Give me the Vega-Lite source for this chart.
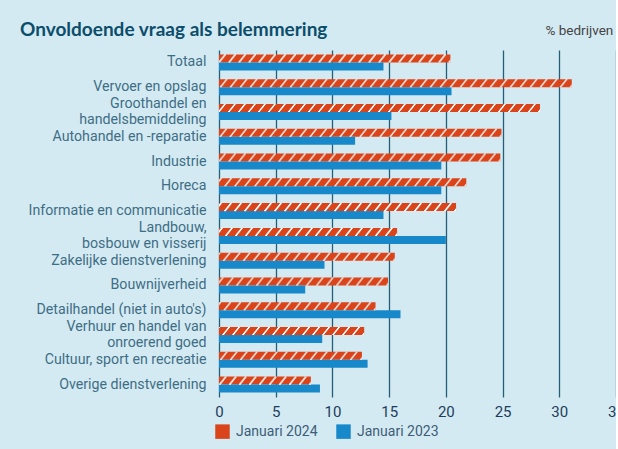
{
  "$schema": "https://vega.github.io/schema/vega-lite/v6.json",
  "width": 397,
  "height": 347,
  "autosize": {"type": "none"},
  "padding": {"left": 219, "top": 50, "right": 0, "bottom": 52},
  "background": "#d4eaf2",
  "title": {
    "text": "Onvoldoende vraag als belemmering",
    "anchor": "start",
    "frame": "group",
    "dx": -199,
    "offset": 0,
    "dy": 32,
    "baseline": "alphabetic",
    "font": "Lato",
    "fontSize": 19,
    "fontWeight": "bold",
    "color": "#0b4d6b"
  },
  "datasets": {
    "bedrijven": [
      {"sector": "Totaal", "jaar": "Januari 2024", "pct": 20.4},
      {"sector": "Totaal", "jaar": "Januari 2023", "pct": 14.5},
      {"sector": "Vervoer en opslag", "jaar": "Januari 2024", "pct": 31.1},
      {"sector": "Vervoer en opslag", "jaar": "Januari 2023", "pct": 20.5},
      {"sector": "Groothandel en handelsbemiddeling", "jaar": "Januari 2024", "pct": 28.3},
      {"sector": "Groothandel en handelsbemiddeling", "jaar": "Januari 2023", "pct": 15.2},
      {"sector": "Autohandel en -reparatie", "jaar": "Januari 2024", "pct": 24.9},
      {"sector": "Autohandel en -reparatie", "jaar": "Januari 2023", "pct": 12.0},
      {"sector": "Industrie", "jaar": "Januari 2024", "pct": 24.8},
      {"sector": "Industrie", "jaar": "Januari 2023", "pct": 19.6},
      {"sector": "Horeca", "jaar": "Januari 2024", "pct": 21.8},
      {"sector": "Horeca", "jaar": "Januari 2023", "pct": 19.6},
      {"sector": "Informatie en communicatie", "jaar": "Januari 2024", "pct": 20.9},
      {"sector": "Informatie en communicatie", "jaar": "Januari 2023", "pct": 14.5},
      {"sector": "Landbouw, bosbouw en visserij", "jaar": "Januari 2024", "pct": 15.7},
      {"sector": "Landbouw, bosbouw en visserij", "jaar": "Januari 2023", "pct": 20.0},
      {"sector": "Zakelijke dienstverlening", "jaar": "Januari 2024", "pct": 15.5},
      {"sector": "Zakelijke dienstverlening", "jaar": "Januari 2023", "pct": 9.3},
      {"sector": "Bouwnijverheid", "jaar": "Januari 2024", "pct": 14.9},
      {"sector": "Bouwnijverheid", "jaar": "Januari 2023", "pct": 7.6},
      {"sector": "Detailhandel (niet in auto's)", "jaar": "Januari 2024", "pct": 13.8},
      {"sector": "Detailhandel (niet in auto's)", "jaar": "Januari 2023", "pct": 16.0},
      {"sector": "Verhuur en handel van onroerend goed", "jaar": "Januari 2024", "pct": 12.8},
      {"sector": "Verhuur en handel van onroerend goed", "jaar": "Januari 2023", "pct": 9.1},
      {"sector": "Cultuur, sport en recreatie", "jaar": "Januari 2024", "pct": 12.6},
      {"sector": "Cultuur, sport en recreatie", "jaar": "Januari 2023", "pct": 13.1},
      {"sector": "Overige dienstverlening", "jaar": "Januari 2024", "pct": 8.1},
      {"sector": "Overige dienstverlening", "jaar": "Januari 2023", "pct": 8.9}
    ]
  },
  "data": {"name": "bedrijven"},
  "resolve": {"axis": {"x": "independent"}},
  "layer": [
    {
      "mark": {"type": "bar"},
      "encoding": {
        "y": {
          "field": "sector", "type": "nominal", "sort": null,
          "scale": {"paddingInner": 0.355, "paddingOuter": 0.1775},
          "axis": {
            "title": null, "domain": false, "ticks": false, "grid": false,
            "labelFont": "Roboto", "labelFontSize": 14.2, "labelColor": "#3e6e85",
            "labelPadding": 13, "labelLineHeight": 16, "labelLimit": 300,
            "labelExpr": "datum.label == 'Groothandel en handelsbemiddeling' ? ['Groothandel en', 'handelsbemiddeling'] : datum.label == 'Landbouw, bosbouw en visserij' ? ['Landbouw,', 'bosbouw en visserij'] : datum.label == 'Verhuur en handel van onroerend goed' ? ['Verhuur en handel van', 'onroerend goed'] : datum.label",
            "labelOffset": {
              "condition": {"test": "datum.value == 'Groothandel en handelsbemiddeling' || datum.value == 'Landbouw, bosbouw en visserij' || datum.value == 'Verhuur en handel van onroerend goed'", "value": -8},
              "value": 0
            }
          }
        },
        "yOffset": {"field": "jaar", "type": "nominal", "sort": ["Januari 2024", "Januari 2023"]},
        "x": {
          "field": "pct", "type": "quantitative",
          "scale": {"domain": [0, 35], "nice": false},
          "axis": {
            "title": null, "values": [0, 5, 10, 15, 20, 25, 30, 35],
            "grid": true, "gridColor": "#245e78", "gridWidth": 1.3,
            "domain": false, "ticks": false, "labelFlush": false,
            "labelFont": "Roboto", "labelFontSize": 15, "labelColor": "#1d3d5c",
            "labelPadding": 7
          }
        },
        "color": {
          "field": "jaar", "type": "nominal",
          "scale": {"domain": ["Januari 2024", "Januari 2023"], "range": ["#d9441b", "#1788c9"]},
          "legend": {
            "orient": "none", "legendX": -4, "legendY": 374,
            "direction": "horizontal", "title": null,
            "symbolType": "square", "symbolSize": 210, "symbolStrokeWidth": 0,
            "labelFont": "Roboto", "labelFontSize": 14, "labelColor": "#3d5d78",
            "labelOffset": 6, "columnPadding": 18,
            "encode": {
              "symbols": {
                "update": {
                  "fill": [
                    {"test": "datum.value === 'Januari 2024'", "value": {"gradient": "linear", "x1": 0, "y1": 0, "x2": 1, "y2": 1, "stops": [{"offset": 0, "color": "#d9441b"}, {"offset": 0.43, "color": "#d9441b"}, {"offset": 0.43, "color": "#ffffff"}, {"offset": 0.57, "color": "#ffffff"}, {"offset": 0.57, "color": "#d9441b"}, {"offset": 1, "color": "#d9441b"}]}},
                    {"value": "#1788c9"}
                  ]
                }
              }
            }
          }
        }
      }
    },
    {
      "transform": [{"filter": "datum.jaar === 'Januari 2024'"}],
      "mark": {"type": "rule", "color": "#ffffff", "strokeWidth": 1.05, "strokeDash": [1.9, 8.1], "strokeDashOffset": 5.6, "yOffset": -7.5, "strokeCap": "butt"},
      "encoding": {
        "y": {"field": "sector", "type": "nominal", "sort": null},
        "x": {"field": "pct", "type": "quantitative", "axis": {
          "orient": "top", "labels": false, "ticks": false, "grid": false, "domain": false,
          "title": "% bedrijven", "titleFont": "Roboto", "titleFontSize": 13.5, "titleFontWeight": "normal",
          "titleColor": "#444444", "titleAnchor": "start", "titleAlign": "left", "titleX": 326, "titleY": -16, "titleBaseline": "alphabetic"
        }},
        "x2": {"datum": 0}
      }
    },
    {
      "transform": [{"filter": "datum.jaar === 'Januari 2024'"}],
      "mark": {"type": "rule", "color": "#ffffff", "strokeWidth": 1.05, "strokeDash": [1.9, 8.1], "strokeDashOffset": 4.8, "yOffset": -6.5, "strokeCap": "butt"},
      "encoding": {"y": {"field": "sector", "type": "nominal", "sort": null}, "x": {"field": "pct", "type": "quantitative", "axis": null}, "x2": {"datum": 0}}
    },
    {
      "transform": [{"filter": "datum.jaar === 'Januari 2024'"}],
      "mark": {"type": "rule", "color": "#ffffff", "strokeWidth": 1.05, "strokeDash": [1.9, 8.1], "strokeDashOffset": 4.0, "yOffset": -5.5, "strokeCap": "butt"},
      "encoding": {"y": {"field": "sector", "type": "nominal", "sort": null}, "x": {"field": "pct", "type": "quantitative", "axis": null}, "x2": {"datum": 0}}
    },
    {
      "transform": [{"filter": "datum.jaar === 'Januari 2024'"}],
      "mark": {"type": "rule", "color": "#ffffff", "strokeWidth": 1.05, "strokeDash": [1.9, 8.1], "strokeDashOffset": 3.2, "yOffset": -4.5, "strokeCap": "butt"},
      "encoding": {"y": {"field": "sector", "type": "nominal", "sort": null}, "x": {"field": "pct", "type": "quantitative", "axis": null}, "x2": {"datum": 0}}
    },
    {
      "transform": [{"filter": "datum.jaar === 'Januari 2024'"}],
      "mark": {"type": "rule", "color": "#ffffff", "strokeWidth": 1.05, "strokeDash": [1.9, 8.1], "strokeDashOffset": 2.4, "yOffset": -3.5, "strokeCap": "butt"},
      "encoding": {"y": {"field": "sector", "type": "nominal", "sort": null}, "x": {"field": "pct", "type": "quantitative", "axis": null}, "x2": {"datum": 0}}
    },
    {
      "transform": [{"filter": "datum.jaar === 'Januari 2024'"}],
      "mark": {"type": "rule", "color": "#ffffff", "strokeWidth": 1.05, "strokeDash": [1.9, 8.1], "strokeDashOffset": 1.6, "yOffset": -2.5, "strokeCap": "butt"},
      "encoding": {"y": {"field": "sector", "type": "nominal", "sort": null}, "x": {"field": "pct", "type": "quantitative", "axis": null}, "x2": {"datum": 0}}
    },
    {
      "transform": [{"filter": "datum.jaar === 'Januari 2024'"}],
      "mark": {"type": "rule", "color": "#ffffff", "strokeWidth": 1.05, "strokeDash": [1.9, 8.1], "strokeDashOffset": 0.8, "yOffset": -1.5, "strokeCap": "butt"},
      "encoding": {"y": {"field": "sector", "type": "nominal", "sort": null}, "x": {"field": "pct", "type": "quantitative", "axis": null}, "x2": {"datum": 0}}
    },
    {
      "transform": [{"filter": "datum.jaar === 'Januari 2024'"}],
      "mark": {"type": "rule", "color": "#ffffff", "strokeWidth": 1.05, "strokeDash": [1.9, 8.1], "strokeDashOffset": 0, "yOffset": -0.5, "strokeCap": "butt"},
      "encoding": {"y": {"field": "sector", "type": "nominal", "sort": null}, "x": {"field": "pct", "type": "quantitative", "axis": null}, "x2": {"datum": 0}}
    }
  ],
  "config": {
    "view": {"stroke": null}
  }
}
